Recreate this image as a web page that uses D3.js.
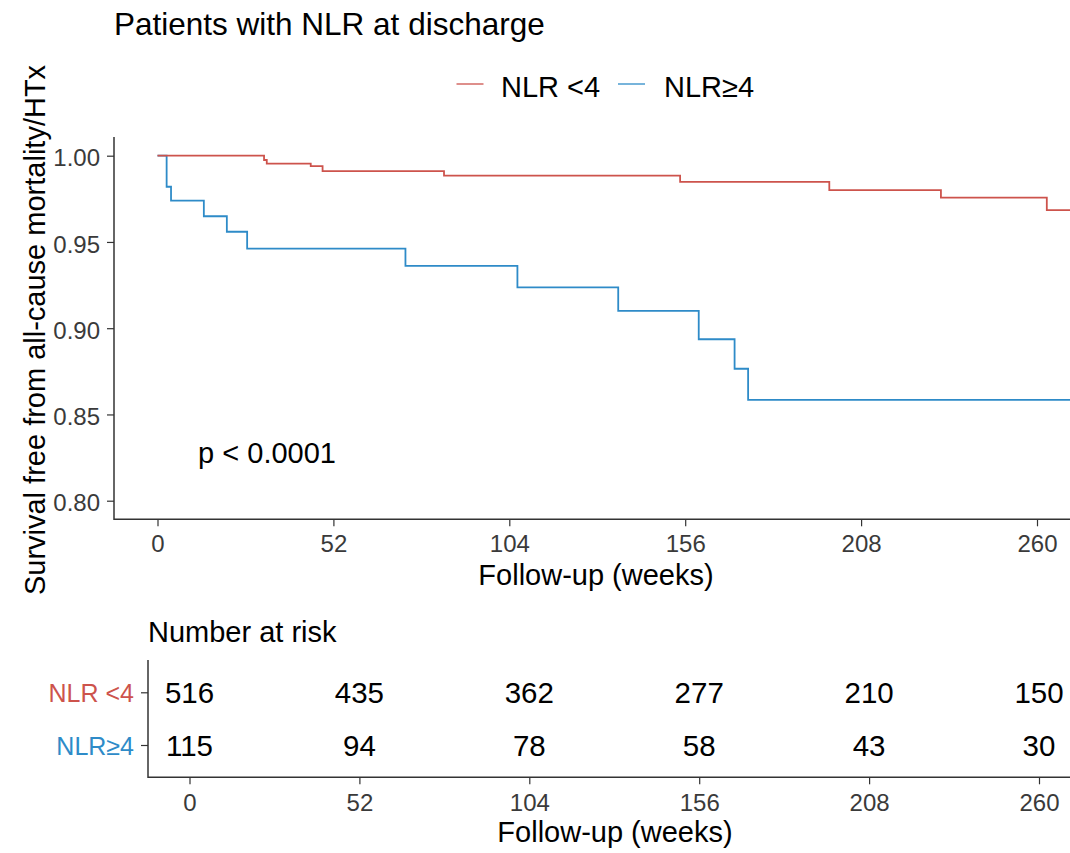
<!DOCTYPE html>
<html>
<head>
<meta charset="utf-8">
<script src="https://cdn.jsdelivr.net/npm/d3@7"></script>
<style>
  html, body { margin: 0; padding: 0; background: #fff; }
  svg { display: block; font-family: "Liberation Sans", Arial, sans-serif; }
</style>
</head>
<body>
<svg id="chart" width="1070" height="853"></svg>
<script>
// ---------------- data ----------------
const groups = ["NLR <4", "NLR\u22654"];
const groupColors = ["#CD534C", "#2E8BC8"];

// Kaplan-Meier step points (weeks, survival)
const lowTimes = [0, 31.5, 32.3, 45.3, 48.8, 84.7, 154.5, 198.6, 231.6, 262.9];
const lowSurv  = [1.0, 0.9975, 0.9954, 0.9940, 0.9911, 0.9884, 0.9848, 0.9801, 0.9757, 0.9685];
const highTimes = [0, 2.7, 4.0, 13.7, 20.5, 26.5, 73.3, 106.4, 136.2, 160.0, 170.6, 174.6];
const highSurv  = [1.0, 0.982, 0.9739, 0.9649, 0.9559, 0.9461, 0.9361, 0.9237, 0.910, 0.8936, 0.8765, 0.8584];
const followUpEnd = 270;

const xTicks = [0, 52, 104, 156, 208, 260];
const yTicks = [0.80, 0.85, 0.90, 0.95, 1.00];

// number at risk at each x tick
const riskLow  = [516, 435, 362, 277, 210, 150];
const riskHigh = [115, 94, 78, 58, 43, 30];

const titleText = "Patients with NLR at discharge";
const yTitle = "Survival free from all-cause mortality/HTx";
const xTitle = "Follow-up (weeks)";
const pText = "p < 0.0001";
const riskTitle = "Number at risk";

// ---------------- layout ----------------
const svg = d3.select("#chart");
const axisColor = "#333333";
const tickTextColor = "#3A3A3A";

const P = { left: 114, right: 1070, top: 137, bottom: 519.3 };
const x = d3.scaleLinear().domain([0, 260]).range([157.5, 1037]);
const y = d3.scaleLinear().domain([0.80, 1.00]).range([500.7, 155.7]);

// title
svg.append("text").attr("x", 114).attr("y", 35)
  .attr("font-size", 31.5).attr("fill", "#000").text(titleText);

// legend
const legendItems = [
  { label: groups[0], color: groupColors[0], lx: 456.5, tx: 501 },
  { label: groups[1], color: groupColors[1], lx: 618, tx: 664 }
];
legendItems.forEach(d => {
  svg.append("line").attr("x1", d.lx).attr("x2", d.lx + 27).attr("y1", 84).attr("y2", 84)
    .attr("stroke", d.color).attr("stroke-width", 1.3);
  svg.append("text").attr("x", d.tx).attr("y", 96.5).attr("font-size", 29)
    .attr("fill", "#000").text(d.label);
});

// clip for curves
svg.append("clipPath").attr("id", "clipMain").append("rect")
  .attr("x", P.left).attr("y", P.top - 5).attr("width", P.right - P.left).attr("height", P.bottom - P.top + 5);

function stepPoints(times, surv) {
  const pts = times.map((t, i) => [t, surv[i]]);
  pts.push([followUpEnd, surv[surv.length - 1]]);
  return pts;
}
const line = d3.line().x(d => x(d[0])).y(d => y(d[1])).curve(d3.curveStepAfter);

const curves = [stepPoints(lowTimes, lowSurv), stepPoints(highTimes, highSurv)];
const gCurves = svg.append("g").attr("clip-path", "url(#clipMain)");
[1, 0].forEach(i => {
  gCurves.append("path").datum(curves[i]).attr("d", line)
    .attr("fill", "none").attr("stroke", groupColors[i]).attr("stroke-width", 1.8);
});

// axes (top panel)
const xAxis = svg.append("g").attr("transform", `translate(0,${P.bottom})`)
  .call(d3.axisBottom(x).tickValues(xTicks).tickSize(7).tickPadding(9).tickFormat(d3.format("d")));
xAxis.select(".domain").remove();
xAxis.selectAll(".tick line").attr("stroke", axisColor).attr("stroke-width", 1.2);
xAxis.selectAll(".tick text").attr("font-size", 24).attr("fill", tickTextColor)
  .attr("font-family", "Liberation Sans, Arial, sans-serif");

const yAxis = svg.append("g").attr("transform", `translate(${P.left},0)`)
  .call(d3.axisLeft(y).tickValues(yTicks).tickSize(7).tickPadding(7).tickFormat(d3.format(".2f")));
yAxis.select(".domain").remove();
yAxis.selectAll(".tick line").attr("stroke", axisColor).attr("stroke-width", 1.2);
yAxis.selectAll(".tick text").attr("font-size", 24).attr("fill", tickTextColor)
  .attr("dy", "0.42em").attr("font-family", "Liberation Sans, Arial, sans-serif");

svg.append("line").attr("x1", P.left).attr("x2", P.left).attr("y1", P.top).attr("y2", P.bottom + 0.7)
  .attr("stroke", axisColor).attr("stroke-width", 1.5);
svg.append("line").attr("x1", P.left).attr("x2", P.right).attr("y1", P.bottom).attr("y2", P.bottom)
  .attr("stroke", axisColor).attr("stroke-width", 1.5);

// axis titles
svg.append("text").attr("x", 596).attr("y", 585).attr("text-anchor", "middle")
  .attr("font-size", 29).attr("fill", "#000").text(xTitle);
svg.append("text").attr("transform", "translate(45,330) rotate(-90)").attr("text-anchor", "middle")
  .attr("font-size", 29).attr("fill", "#000").text(yTitle);

// p value
svg.append("text").attr("x", x(12)).attr("y", 463).attr("font-size", 29).attr("fill", "#000").text(pText);

// ---------------- risk table ----------------
const T = { left: 148, right: 1070, top: 660, bottom: 777.3 };
const xt = d3.scaleLinear().domain([0, 260]).range([189.5, 1039]);
const yt = d3.scalePoint().domain(groups).range([692.3, 745]);

svg.append("text").attr("x", 148).attr("y", 642).attr("font-size", 29).attr("fill", "#000").text(riskTitle);

const riskRows = [riskLow, riskHigh];
riskRows.forEach((row, gi) => {
  svg.append("g").selectAll("text").data(row).join("text")
    .attr("x", (d, i) => xt(xTicks[i])).attr("y", yt(groups[gi]))
    .attr("dy", "0.36em").attr("text-anchor", "middle")
    .attr("font-size", 29.5).attr("fill", "#000").text(d => d);
});

const xtAxis = svg.append("g").attr("transform", `translate(0,${T.bottom})`)
  .call(d3.axisBottom(xt).tickValues(xTicks).tickSize(7).tickPadding(10).tickFormat(d3.format("d")));
xtAxis.select(".domain").remove();
xtAxis.selectAll(".tick line").attr("stroke", axisColor).attr("stroke-width", 1.2);
xtAxis.selectAll(".tick text").attr("font-size", 24).attr("fill", tickTextColor)
  .attr("font-family", "Liberation Sans, Arial, sans-serif");

const ytAxis = svg.append("g").attr("transform", `translate(${T.left},0)`)
  .call(d3.axisLeft(yt).tickSize(7).tickPadding(7));
ytAxis.select(".domain").remove();
ytAxis.selectAll(".tick line").attr("stroke", axisColor).attr("stroke-width", 1.2);
ytAxis.selectAll(".tick text").attr("font-size", 25).attr("dy", "0.36em")
  .attr("font-family", "Liberation Sans, Arial, sans-serif")
  .attr("fill", (d, i) => groupColors[i]);

svg.append("line").attr("x1", T.left).attr("x2", T.left).attr("y1", T.top).attr("y2", T.bottom + 0.7)
  .attr("stroke", axisColor).attr("stroke-width", 1.5);
svg.append("line").attr("x1", T.left).attr("x2", T.right).attr("y1", T.bottom).attr("y2", T.bottom)
  .attr("stroke", axisColor).attr("stroke-width", 1.5);

svg.append("text").attr("x", 615).attr("y", 842).attr("text-anchor", "middle")
  .attr("font-size", 29).attr("fill", "#000").text(xTitle);
</script>
</body>
</html>
